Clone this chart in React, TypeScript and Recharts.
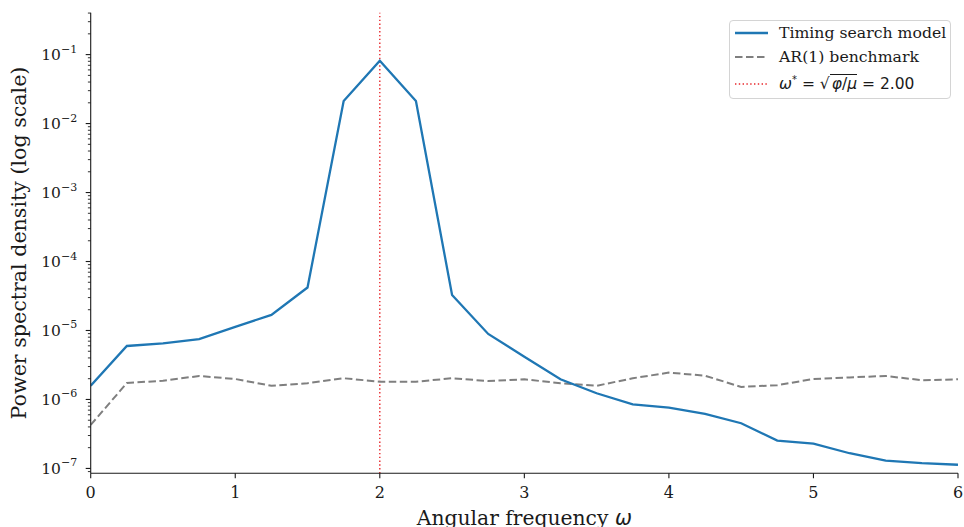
import React from 'react';
import { LineChart, Line, XAxis, YAxis, ReferenceLine, Legend, Label } from 'recharts';

// Angular frequency grid
const omega = [0, 0.25, 0.5, 0.75, 1, 1.25, 1.5, 1.75, 2, 2.25, 2.5, 2.75, 3, 3.25, 3.5, 3.75, 4, 4.25, 4.5, 4.75, 5, 5.25, 5.5, 5.75, 6];

// Power spectral density of the timing search model
const timingPsd = [
  1.58e-6, 5.96e-6, 6.5e-6, 7.5e-6, 1.13e-5, 1.68e-5, 4.2e-5, 0.0212, 0.0813, 0.0212,
  3.27e-5, 8.9e-6, 4.17e-6, 1.96e-6, 1.23e-6, 8.5e-7, 7.6e-7, 6.17e-7, 4.52e-7, 2.53e-7,
  2.29e-7, 1.66e-7, 1.3e-7, 1.19e-7, 1.13e-7,
];

// Power spectral density of the AR(1) benchmark
const ar1Psd = [
  4.27e-7, 1.73e-6, 1.87e-6, 2.19e-6, 1.98e-6, 1.58e-6, 1.72e-6, 2.03e-6, 1.81e-6, 1.81e-6,
  2.03e-6, 1.85e-6, 1.96e-6, 1.72e-6, 1.58e-6, 2.03e-6, 2.45e-6, 2.21e-6, 1.52e-6, 1.61e-6,
  1.98e-6, 2.09e-6, 2.19e-6, 1.9e-6, 1.96e-6,
];

// Theoretical peak frequency omega* = sqrt(phi/mu)
const peakOmega = 2.0;

const xTicks = [0, 1, 2, 3, 4, 5, 6];
const yMajorTicks = [1e-7, 1e-6, 1e-5, 1e-4, 1e-3, 1e-2, 1e-1];
const yMantissas = [2, 3, 4, 5, 6, 7, 8, 9];
const yExponents = [-8, -7, -6, -5, -4, -3, -2, -1];
const yDomain: [number, number] = [8.5e-8, 0.405];

const seriesNames = ['Timing search model', 'AR(1) benchmark'];

const data = omega.map((w, i) => ({ w, timing: timingPsd[i], ar1: ar1Psd[i] }));

const yMinorTicks = yExponents
  .flatMap((e) => yMantissas.map((m) => m * Math.pow(10, e)))
  .filter((v) => v >= yDomain[0] && v <= yDomain[1]);

const yAllTicks = [...yMajorTicks, ...yMinorTicks];

const W = 964;
const H = 527;
const PLOT_LEFT = 90.7;
const PLOT_TOP = 12.7;
const PLOT_RIGHT = 6;
const PLOT_BOTTOM = 53.7;

const SERIF = '"DejaVu Serif", serif';
const SANS = '"DejaVu Sans", sans-serif';
const INK = '#1a1a1a';

const BLUE = '#1f77b4';
const GREY = '#7f7f7f';
const RED = '#e8262a';

const isMajor = (v: number) => yMajorTicks.some((m) => Math.abs(m - v) / m < 1e-6);

const YTick = (props: any) => {
  const { y, payload } = props;
  const v = payload.value as number;
  const major = isMajor(v);
  const len = major ? 5 : 2.8;
  const exp = Math.round(Math.log10(v));
  return (
    <g>
      <line x1={PLOT_LEFT - len} x2={PLOT_LEFT} y1={y} y2={y} stroke={INK} strokeWidth={major ? 1.1 : 0.9} />
      {major && (
        <text x={PLOT_LEFT - 13.5} y={y} dy={5.5} textAnchor="end" fontFamily={SERIF} fontSize={15.5} fill={INK}>
          <tspan>10</tspan>
          <tspan dy={-7.5} fontSize={11}>{'\u2212' + Math.abs(exp)}</tspan>
        </text>
      )}
    </g>
  );
};

const LegendBox = () => {
  const row = (y: number) => ({ position: 'absolute' as const, left: 0, top: y, height: 20, width: '100%' });
  const textStyle = { position: 'absolute' as const, left: 49, top: 0, fontSize: 15.7, color: INK, lineHeight: '20px', whiteSpace: 'nowrap' as const };
  return (
    <div
      style={{
        position: 'relative',
        width: 222,
        height: 79,
        boxSizing: 'border-box',
        border: '1px solid #d4d4d4',
        borderRadius: 4,
        background: 'rgba(255,255,255,0.85)',
      }}
    >
      <div style={row(2)}>
        <svg width={40} height={20} style={{ position: 'absolute', left: 4, top: 0 }}>
          <line x1={1} x2={34} y1={10} y2={10} stroke={BLUE} strokeWidth={2.3} />
        </svg>
        <span style={{ ...textStyle, fontFamily: SERIF }}>{seriesNames[0]}</span>
      </div>
      <div style={row(26)}>
        <svg width={40} height={20} style={{ position: 'absolute', left: 4, top: 0 }}>
          <line x1={1} x2={34} y1={10} y2={10} stroke={GREY} strokeWidth={2} strokeDasharray="7.5 3.5" />
        </svg>
        <span style={{ ...textStyle, fontFamily: SERIF }}>{seriesNames[1]}</span>
      </div>
      <div style={row(53)}>
        <svg width={40} height={20} style={{ position: 'absolute', left: 4, top: 0 }}>
          <line x1={1} x2={34} y1={10} y2={10} stroke={RED} strokeWidth={1.4} strokeDasharray="1.4 2.4" />
        </svg>
        <span style={{ ...textStyle, fontFamily: SANS, fontSize: 15.5 }}>
          <i>ω</i>
          <sup style={{ fontSize: 10, verticalAlign: 'baseline', position: 'relative', top: -6 }}>*</sup>
          {' = \u221A'}
          <span style={{ borderTop: '1px solid ' + INK, paddingLeft: 2 }}>
            <i>φ</i>/<i>μ</i>
          </span>
          {' = ' + peakOmega.toFixed(2)}
        </span>
      </div>
    </div>
  );
};

const XAxisTitle = (props: any) => {
  const { viewBox } = props;
  const cx = viewBox.x + viewBox.width / 2;
  return (
    <text x={cx} y={viewBox.y + 52} textAnchor="middle" fontFamily={SERIF} fontSize={20.3} fill={INK}>
      <tspan>Angular frequency </tspan>
      <tspan fontFamily={SANS} fontStyle="italic">ω</tspan>
    </text>
  );
};

const YAxisTitle = (props: any) => {
  const { viewBox } = props;
  const cy = viewBox.y + viewBox.height / 2;
  const cx = 18.5;
  return (
    <text x={cx} y={cy} transform={`rotate(-90 ${cx} ${cy})`} dy={7} textAnchor="middle" fontFamily={SERIF} fontSize={20.6} fill={INK}>
      Power spectral density (log scale)
    </text>
  );
};

export default function App() {
  return (
    <div style={{ position: 'absolute', left: 0, top: 0, width: W, height: H, background: '#fff' }}>
      <LineChart
        width={W}
        height={H}
        data={data}
        margin={{ top: PLOT_TOP, right: PLOT_RIGHT, bottom: 0, left: 0 }}
      >
        <XAxis
          dataKey="w"
          type="number"
          domain={[0, 6]}
          ticks={xTicks}
          height={PLOT_BOTTOM}
          tickSize={5}
          tickMargin={8}
          stroke={INK}
          strokeWidth={1.1}
          tick={{ fontFamily: SERIF, fontSize: 16, fill: INK }}
          allowDataOverflow
        >
          <Label content={<XAxisTitle />} />
        </XAxis>
        <YAxis
          type="number"
          scale="log"
          domain={yDomain}
          ticks={yAllTicks}
          allowDataOverflow
          width={PLOT_LEFT}
          tickLine={false}
          tick={<YTick />}
          stroke={INK}
          strokeWidth={1.1}
          interval={0}
        >
          <Label content={<YAxisTitle />} />
        </YAxis>
        <ReferenceLine x={peakOmega} stroke={RED} strokeWidth={1.4} strokeDasharray="1.4 2.4" />
        <Line
          dataKey="ar1"
          name={seriesNames[1]}
          stroke={GREY}
          strokeWidth={2}
          strokeDasharray="7.5 3.5"
          dot={false}
          activeDot={false}
          isAnimationActive={false}
        />
        <Line
          dataKey="timing"
          name={seriesNames[0]}
          stroke={BLUE}
          strokeWidth={2.3}
          dot={false}
          activeDot={false}
          isAnimationActive={false}
        />
        <Legend
          layout="horizontal"
          align="center"
          verticalAlign="middle"
          content={<LegendBox />}
          wrapperStyle={{ left: 729, top: 20, width: 222, height: 79, margin: 0 }}
        />
      </LineChart>
    </div>
  );
}
